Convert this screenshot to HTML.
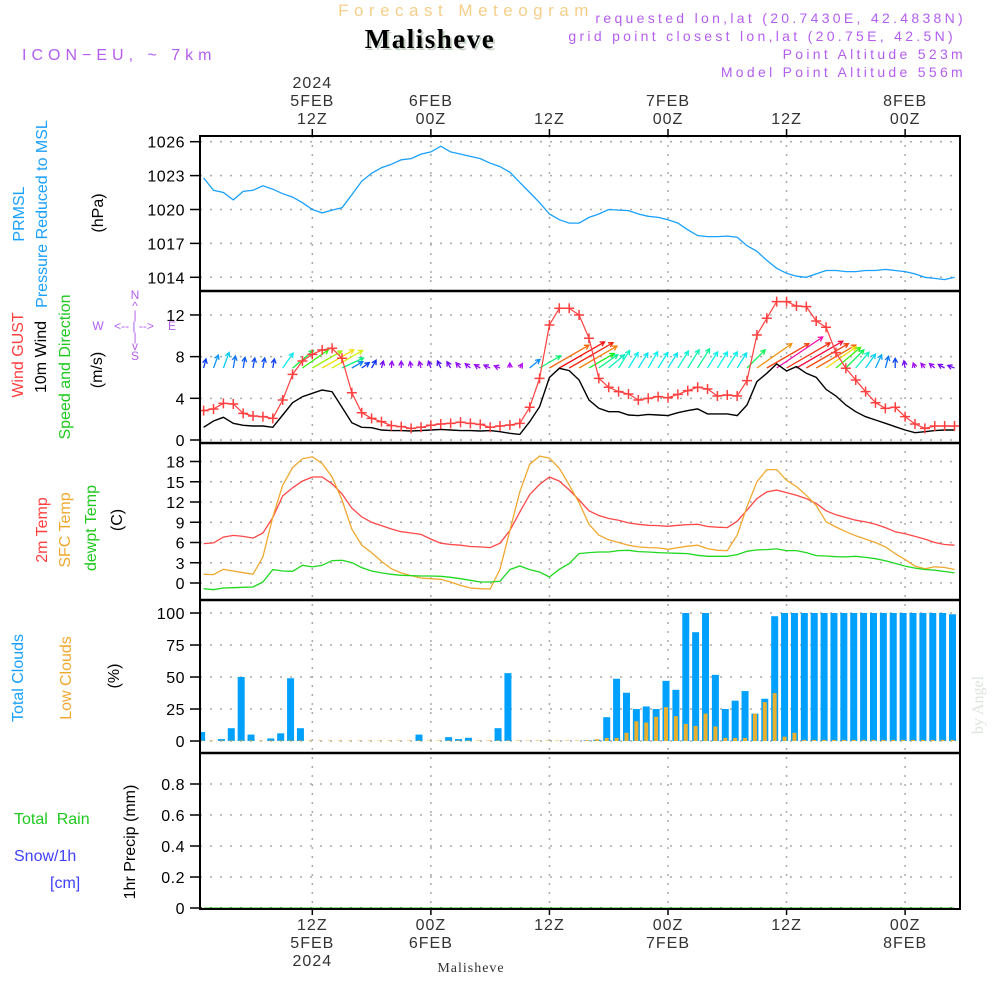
<!DOCTYPE html>
<html><head><meta charset="utf-8">
<style>
html,body{margin:0;padding:0;background:#fff;}
svg{display:block;font-family:"Liberation Sans",sans-serif;}
</style></head>
<body>
<svg id="chart" width="1000" height="1000" viewBox="0 0 1000 1000" xmlns="http://www.w3.org/2000/svg">
<defs>
<clipPath id="cp1"><rect x="200" y="136" width="760" height="155"/></clipPath>
<clipPath id="cp2"><rect x="200" y="291" width="760" height="152"/></clipPath>
<clipPath id="cp3"><rect x="200" y="443" width="760" height="157"/></clipPath>
<clipPath id="cp4"><rect x="200" y="600" width="760" height="153"/></clipPath>
<clipPath id="cp5"><rect x="200" y="753" width="760" height="156"/></clipPath>
</defs>
<!-- header -->
<text x="466" y="16" text-anchor="middle" font-size="17" fill="#f5cf8a" letter-spacing="5.5">Forecast Meteogram</text>
<text x="432" y="50" text-anchor="middle" font-size="27" font-weight="bold" font-family="Liberation Serif,serif" fill="#c8d4c8" letter-spacing="1.5">Malisheve</text>
<text x="430" y="48" text-anchor="middle" font-size="27" font-weight="bold" font-family="Liberation Serif,serif" fill="#000" letter-spacing="1.5">Malisheve</text>
<text x="22" y="60" font-size="16" fill="#b45ef0" letter-spacing="5">ICON−EU, ~ 7km</text>
<g font-size="14" fill="#b45ef0" text-anchor="end" letter-spacing="3.3">
<text x="966" y="23">requested lon,lat (20.7430E, 42.4838N)</text>
<text x="956" y="41">grid point closest lon,lat (20.75E, 42.5N)</text>
<text x="966" y="59">Point Altitude 523m</text>
<text x="966" y="77">Model Point Altitude 556m</text>
</g>
<g id="grid"></g>
<g id="marks"></g>
<g id="axes"></g>
<!-- left labels -->
<g font-size="16">
<text transform="translate(24,214) rotate(-90)" text-anchor="middle" fill="#1aa0ff">PRMSL</text>
<text transform="translate(47,214) rotate(-90)" text-anchor="middle" fill="#1aa0ff">Pressure Reduced to MSL</text>
<text transform="translate(103,213) rotate(-90)" text-anchor="middle" fill="#000">(hPa)</text>
<text transform="translate(23,355) rotate(-90)" text-anchor="middle" fill="#ff4040">Wind GUST</text>
<text transform="translate(46,357) rotate(-90)" text-anchor="middle" fill="#000">10m Wind</text>
<text transform="translate(70,367) rotate(-90)" text-anchor="middle" fill="#20c820">Speed and Direction</text>
<text transform="translate(102,370) rotate(-90)" text-anchor="middle" fill="#000">(m/s)</text>
<text transform="translate(47,530) rotate(-90)" text-anchor="middle" fill="#ff4040">2m Temp</text>
<text transform="translate(70,530) rotate(-90)" text-anchor="middle" fill="#f0a830">SFC Temp</text>
<text transform="translate(96,528) rotate(-90)" text-anchor="middle" fill="#20c820">dewpt Temp</text>
<text transform="translate(122,520) rotate(-90)" text-anchor="middle" fill="#000">(C)</text>
<text transform="translate(23,678) rotate(-90)" text-anchor="middle" fill="#1aa0ff">Total Clouds</text>
<text transform="translate(71,678) rotate(-90)" text-anchor="middle" fill="#f0a830">Low Clouds</text>
<text transform="translate(119,676) rotate(-90)" text-anchor="middle" fill="#000">(%)</text>
<text x="14" y="824" fill="#20c820" xml:space="preserve">Total  Rain</text>
<text x="14" y="861" fill="#4040ff">Snow/1h</text>
<text x="50" y="888" fill="#4040ff">[cm]</text>
<text transform="translate(135,842) rotate(-90)" text-anchor="middle" fill="#000">1hr Precip (mm)</text>
</g>
<g font-size="12" fill="#b45ef0" text-anchor="middle">
<text x="135" y="299">N</text><text x="135" y="310">^</text><text x="135" y="319">|</text>
<text x="98" y="330">W</text><text x="134" y="330">&lt;-- | --&gt;</text><text x="172" y="330">E</text>
<text x="135" y="341">|</text><text x="135" y="350">v</text><text x="135" y="360">S</text>
</g>
<text transform="translate(983,705) rotate(-90)" text-anchor="middle" font-size="16" font-family="Liberation Serif,serif" fill="#dde4dd">by Angel</text>
<text x="471" y="972" text-anchor="middle" font-size="14" font-family="Liberation Serif,serif" fill="#333" letter-spacing="1">Malisheve</text>
</svg>
<script>
// ---- data (hourly, first value = 5FEB 01Z) ----
const pressure=[1022.8,1021.7,1021.5,1020.85,1021.6,1021.7,1022.1,1021.8,1021.4,1021.1,1020.6,1020.0,1019.7,1019.95,1020.15,1021.3,1022.5,1023.2,1023.7,1024.0,1024.4,1024.5,1024.9,1025.1,1025.6,1025.1,1024.9,1024.7,1024.5,1024.1,1023.8,1023.3,1022.4,1021.5,1020.6,1019.6,1019.1,1018.8,1018.8,1019.3,1019.6,1020.0,1019.95,1019.9,1019.6,1019.4,1019.3,1019.1,1018.8,1018.2,1017.7,1017.6,1017.6,1017.65,1017.55,1016.8,1016.3,1015.5,1014.8,1014.35,1014.1,1014.0,1014.3,1014.6,1014.6,1014.5,1014.5,1014.6,1014.6,1014.7,1014.6,1014.5,1014.3,1014.0,1013.9,1013.8,1014.0];
const gust=[2.82,2.98,3.52,3.46,2.56,2.30,2.24,2.08,3.84,6.30,7.58,8.22,8.64,8.80,7.84,4.54,2.62,2.08,1.76,1.38,1.28,1.12,1.22,1.41,1.54,1.6,1.7,1.6,1.5,1.22,1.34,1.44,1.6,3.14,5.92,11.04,12.64,12.64,12.0,9.76,5.92,5.06,4.64,4.42,3.84,4.0,4.16,4.06,4.38,4.74,5.06,4.9,4.22,4.32,4.22,5.7,10.08,11.68,13.28,13.28,12.86,12.8,11.42,10.82,8.38,6.88,5.76,4.64,3.58,3.04,3.14,2.24,1.54,1.12,1.34,1.34,1.34];
const wind=[1.22,1.82,2.18,1.6,1.41,1.34,1.34,1.22,2.4,3.58,4.16,4.48,4.8,4.64,3.14,1.66,1.22,1.18,0.96,0.9,0.9,0.86,0.9,0.96,1.02,0.96,0.9,0.9,0.86,0.9,0.8,0.64,0.54,1.76,3.2,6.0,6.88,6.66,5.76,3.84,3.04,2.72,2.72,2.4,2.34,2.46,2.4,2.34,2.62,2.82,2.98,2.5,2.5,2.5,2.34,3.36,5.6,6.4,7.3,6.62,7.04,6.4,6.02,4.86,4.22,3.36,2.72,2.24,1.92,1.6,1.28,0.96,0.7,0.8,0.9,0.96,0.96];
const windHeading=[75,70,70,80,80,80,80,80,55,40,35,30,30,30,25,30,35,60,75,85,90,100,105,110,115,120,130,140,150,155,160,90,60,40,30,30,30,30,30,30,35,40,58,58,58,60,58,58,58,58,58,58,58,58,58,45,35,30,34,30,30,30,30,35,40,45,50,55,65,75,90,100,110,130,140,150,160];
const temp2m=[5.84,5.94,6.8,7.05,6.9,6.65,7.4,9.7,12.9,14.1,15.1,15.7,15.7,14.7,13.2,11.1,9.8,9.0,8.5,8.0,7.6,7.4,7.2,6.5,5.9,5.7,5.6,5.4,5.35,5.25,5.9,7.8,10.5,13.1,14.6,15.7,15.1,13.8,12.3,10.7,10.0,9.55,9.3,8.9,8.7,8.55,8.5,8.4,8.55,8.65,8.7,8.37,8.27,8.2,9.15,10.8,12.5,13.5,13.76,13.4,13.0,12.5,11.8,10.7,10.1,9.7,9.3,9.05,8.7,8.2,7.6,7.3,6.9,6.5,6.0,5.7,5.6];
const tempSfc=[1.29,1.24,2.03,1.78,1.53,1.29,3.86,9.8,14.5,17.1,18.4,18.7,17.7,15.7,12.3,8.0,5.6,4.5,3.2,2.1,1.5,1.1,0.74,0.64,0.55,0.15,-0.35,-0.74,-0.84,-0.89,2.03,7.8,13.5,17.6,18.8,18.5,17.0,14.5,11.9,8.7,7.1,6.4,6.0,5.6,5.35,5.25,5.2,5.0,5.25,5.45,5.6,5.1,4.85,4.8,7.1,11.3,15.0,16.8,16.8,15.2,14.3,13.0,11.5,9.06,8.3,7.6,7.0,6.5,6.0,5.35,4.36,3.47,2.5,2.1,2.4,2.3,2.0];
const dewpt=[-0.84,-0.99,-0.74,-0.69,-0.64,-0.59,0.15,1.98,1.78,1.73,2.62,2.38,2.62,3.32,3.37,3.02,2.28,1.78,1.49,1.29,1.14,1.09,1.04,1.04,0.99,0.84,0.64,0.40,0.15,0.15,0.25,1.98,2.52,1.98,1.63,0.89,2.03,2.87,4.36,4.5,4.6,4.6,4.8,4.85,4.65,4.6,4.5,4.45,4.4,4.36,4.1,3.96,3.96,3.96,4.2,4.7,4.9,4.95,5.05,4.8,4.8,4.5,4.06,4.0,3.9,3.86,3.96,3.8,3.6,3.3,2.9,2.5,2.2,2.0,1.9,1.7,1.5];
const totalClouds=[7,0,1.5,10,50,5,0,2,6,49,10,0,0,0,0,0,0,0,0,0,0,0,5,0,0,3,1.5,2.5,0,0,10,53,0,0,0,0,0,0,0,0.5,1,18.6,48.6,37.7,25,27,25,47,40,100,85,100,51.7,25,31.5,39,21.4,33,97.5,100,100,100,100,100,100,100,100,100,100,100,100,100,100,100,100,100,99];
const lowClouds=[0,0,0,0,0,0,0,0,0,0,0,0,0,0,0,0,0,0,0,0,0,0,0,0,0,0,0,0,0,0,0,0,0,0,0,0,0,0,0,0.3,1,2,2,6,15,14,18.5,26,19,13,11.4,21,11,2,2,2,21,30,37,3,6,0.5,0.5,0.5,0.5,0.5,0.5,0.5,0.5,0.5,0.5,0.5,0.5,0.5,0.5,0.5,0.5];
const precip=[0,0,0,0,0,0,0,0,0,0,0,0,0,0,0,0,0,0,0,0,0,0,0,0,0,0,0,0,0,0,0,0,0,0,0,0,0,0,0,0,0,0,0,0,0,0,0,0,0,0,0,0,0,0,0,0,0,0,0,0,0,0,0,0,0,0,0,0,0,0,0,0,0,0,0,0,0];
const pressureTicks=[1014,1017,1020,1023,1026];
const windTicks=[0,4,8,12];
const tempTicks=[0,3,6,9,12,15,18];
const cloudTicks=[0,25,50,75,100];
const precipTicks=[0,0.2,0.4,0.6,0.8];
const timeTickHours=[12,24,36,48,60,72];
const topTimeLabels=[["2024","5FEB","12Z"],["6FEB","00Z"],["12Z"],["7FEB","00Z"],["12Z"],["8FEB","00Z"]];
const bottomTimeLabels=[["12Z","5FEB","2024"],["00Z","6FEB"],["12Z"],["00Z","7FEB"],["12Z"],["00Z","8FEB"]];
const firstHour=1;

// ---- scales ----
const NS="http://www.w3.org/2000/svg";
const xH=h=>668+(h-48)*9.88;
const hourOf=i=>firstHour+i;
const yP=p=>141.7+(1026-p)*11.3;
const yW=w=>440-w*10.42;
const yT=t=>583-t*6.75;
const yC=c=>741-c*1.28;
const yR=r=>908-r*155;
function mk(tag,attrs,parent){const e=document.createElementNS(NS,tag);for(const k in attrs)e.setAttribute(k,attrs[k]);parent.appendChild(e);return e;}
const grid=document.getElementById('grid'),marks=document.getElementById('marks'),axes=document.getElementById('axes');

const panels=[[pressureTicks,yP,v=>String(v)],[windTicks,yW,v=>String(v)],[tempTicks,yT,v=>String(v)],[cloudTicks,yC,v=>String(v)],[precipTicks,yR,v=>v===0?"0":v.toFixed(1)]];
panels.forEach(([ticks,f,fmt],pi)=>{
  ticks.forEach(v=>{
    const y=f(v);
    const gl=mk('line',{x1:200,x2:960,y1:y,y2:y,stroke:pi===4&&v===0?'#000':'#aaa','stroke-width':1.5,'stroke-dasharray':'2,8'},grid);
    
    
    const tk=mk('line',{x1:190,x2:200,y1:y,y2:y,stroke:'#000','stroke-width':1.5},axes);
    
    
    const t=mk('text',{x:185,y:y+6,'text-anchor':'end','font-size':16,fill:'#000','letter-spacing':'0.5'},axes);
    t.textContent=fmt(v);
    
    
  });
});
timeTickHours.forEach((h,i)=>{
  const x=xH(h);
  const vl=mk('line',{x1:x,x2:x,y1:136,y2:909,stroke:'#aaa','stroke-width':1.5,'stroke-dasharray':'2,7'},grid);
  
  
  const t1=mk('line',{x1:x,x2:x,y1:129,y2:136,stroke:'#000','stroke-width':1.5},axes);
  
  
  const t2=mk('line',{x1:x,x2:x,y1:909,y2:915,stroke:'#000','stroke-width':1.5},axes);
  
  
  const tl=topTimeLabels[i];
  tl.forEach((s,k)=>{
    const t=mk('text',{x:x,y:127-(tl.length-1-k)*18-3,'text-anchor':'middle','font-size':16,fill:'#333','letter-spacing':'1'},axes);
    t.textContent=s;
    
    
  });
  bottomTimeLabels[i].forEach((s,k)=>{
    const t=mk('text',{x:x,y:930+k*18,'text-anchor':'middle','font-size':16,fill:'#333','letter-spacing':'1'},axes);
    t.textContent=s;
    
    
  });
});
const fr=mk('rect',{x:200,y:136,width:760,height:773,fill:'none',stroke:'#000','stroke-width':2},axes);


[291,443,600,753].forEach(y=>{
  const l=mk('line',{x1:200,x2:960,y1:y,y2:y,stroke:'#000','stroke-width':2.5},axes);
  
  
});

function line(arr,f,color,clip,name,w){
  const pts=arr.map((v,i)=>xH(hourOf(i)).toFixed(1)+','+f(v).toFixed(1)).join(' ');
  const p=mk('polyline',{points:pts,fill:'none',stroke:color,'stroke-width':w||1.3,'clip-path':'url(#'+clip+')'},marks);
  
  
}
line(pressure,yP,'#1aa0ff','cp1','pressure-line');
totalClouds.forEach((v,i)=>{
  const x=xH(hourOf(i))-2;
  const r=mk('rect',{x:x-3.5,y:yC(v),width:7,height:Math.max(0,yC(0)-yC(v)),fill:'#00a0ff','clip-path':'url(#cp4)'},marks);
  
  
});
lowClouds.forEach((v,i)=>{
  const x=xH(hourOf(i))-2;
  const r=mk('rect',{x:x-2,y:yC(v)-0.5,width:4,height:Math.max(0,yC(0)-yC(v))+0.5,fill:'#e8b030','clip-path':'url(#cp4)'},marks);
  
  
});
line(temp2m,yT,'#ff4848','cp3','temp-2m-line');
line(tempSfc,yT,'#f0a830','cp3','temp-sfc-line');
line(dewpt,yT,'#20d820','cp3','dewpoint-line');
line(precip,yR,'#20c820','cp5','precip-line',1);
const hueTable=[[0.5,285],[0.9,275],[1.2,228],[1.8,205],[2.4,182],[3.6,130],[4.2,110],[4.5,80],[4.8,55],[5.6,35],[6.0,25],[6.9,0],[7.3,-40]];
function hueFor(s){if(s<=hueTable[0][0])return hueTable[0][1];for(let k=1;k<hueTable.length;k++){if(s<=hueTable[k][0]){const a=hueTable[k-1],b=hueTable[k];return a[1]+(b[1]-a[1])*(s-a[0])/(b[0]-a[0]);}}return hueTable[hueTable.length-1][1];}
wind.forEach((s,i)=>{
  const x0=xH(hourOf(i)),y0=368;
  const ang=windHeading[i]*Math.PI/180,len=Math.max(s*7.6,5);
  const x1=x0+Math.cos(ang)*len,y1=y0-Math.sin(ang)*len;
  const col='hsl('+((hueFor(s)+360)%360).toFixed(0)+',90%,50%)';
  const a1=ang+Math.PI-0.5,a2=ang+Math.PI+0.5,hl=5;
  const d='M'+x0.toFixed(1)+','+y0+' L'+x1.toFixed(1)+','+y1.toFixed(1)+' M'+(x1+Math.cos(a1)*hl).toFixed(1)+','+(y1-Math.sin(a1)*hl).toFixed(1)+' L'+x1.toFixed(1)+','+y1.toFixed(1)+' L'+(x1+Math.cos(a2)*hl).toFixed(1)+','+(y1-Math.sin(a2)*hl).toFixed(1);
  const p=mk('path',{d:d,fill:'none',stroke:col,'stroke-width':1.3,'clip-path':'url(#cp2)'},marks);
  
  
});
line(wind,yW,'#000','cp2','wind-speed-line',1.4);
line(gust,yW,'#ff4040','cp2','wind-gust-line',1.2);
gust.forEach((v,i)=>{
  const x=xH(hourOf(i)),y=yW(v);
  const p=mk('path',{d:'M'+(x-5)+','+y+' h10 M'+x+','+(y-5)+' v10',stroke:'#ff4040','stroke-width':1.5,fill:'none','clip-path':'url(#cp2)'},marks);
  
  
});
</script>
</body></html>
